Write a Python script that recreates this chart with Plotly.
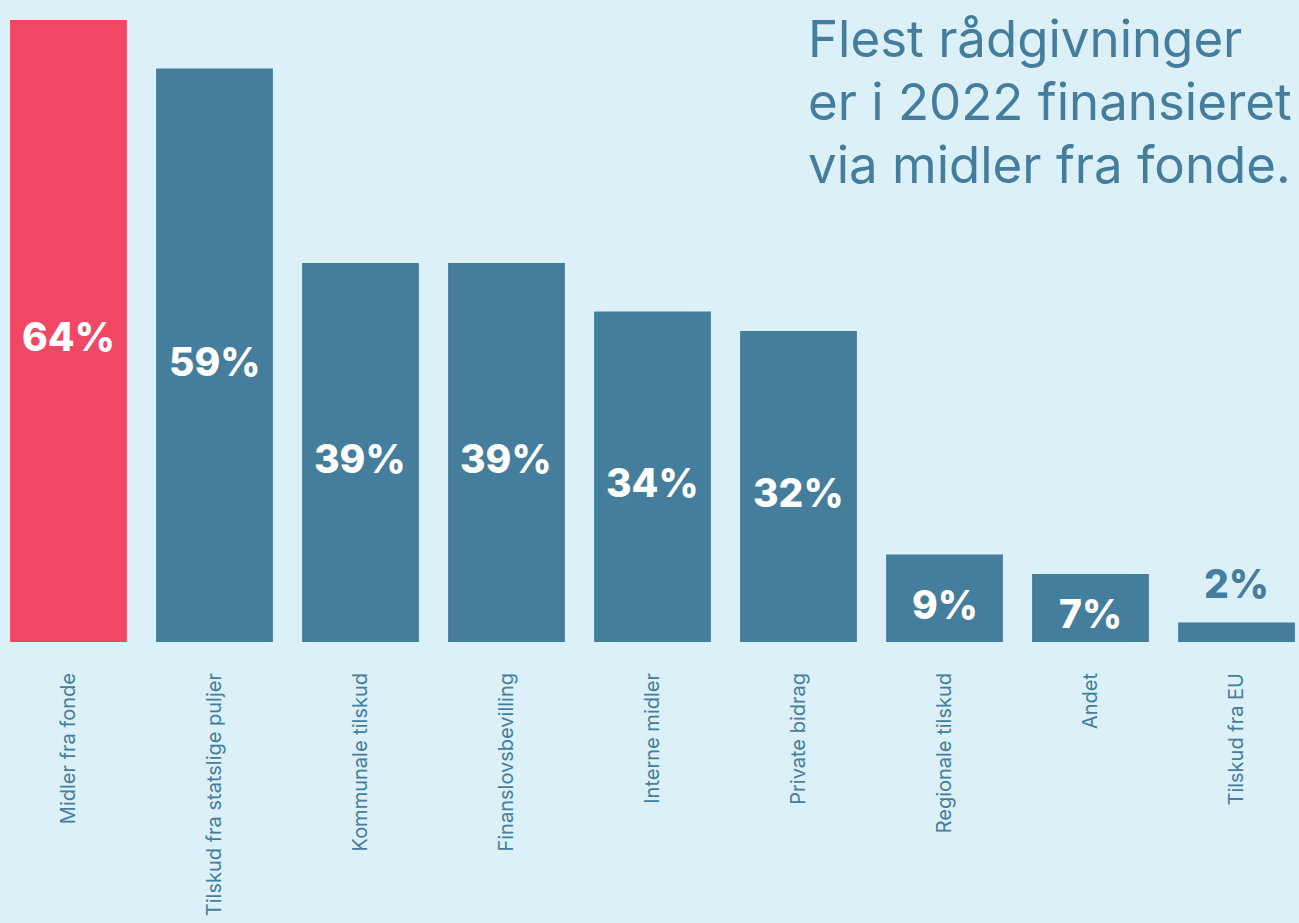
import plotly.graph_objects as go

categories = ["Midler fra fonde", "Tilskud fra statslige puljer", "Kommunale tilskud",
              "Finanslovsbevilling", "Interne midler", "Private bidrag",
              "Regionale tilskud", "Andet", "Tilskud fra EU"]
values = [64, 59, 39, 39, 34, 32, 9, 7, 2]
labels = ["64%", "59%", "39%", "39%", "34%", "32%", "9%", "7%", "2%"]
title_lines = ["Flest rådgivninger", "er i 2022 finansieret", "via midler fra fonde."]

RED = "#EF4764"
BLUE = "#457E9D"
BG = "#DBF0F7"

colors = [RED] + [BLUE] * (len(values) - 1)
positions = ["inside"] * (len(values) - 1) + ["outside"]
tcolors = ["white"] * (len(values) - 1) + [BLUE]

fig = go.Figure()
fig.add_trace(go.Bar(
    x=categories, y=values,
    marker=dict(color=colors, line=dict(width=0)),
    text=labels, textposition="none",
    hoverinfo="skip",
))

for c, v, t, p, tc in zip(categories, values, labels, positions, tcolors):
    if p == "inside":
        fig.add_annotation(x=c, y=v / 2, text=t, showarrow=False, yanchor="middle",
                           yshift=-6,
                           font=dict(family="Inter", size=39, color=tc, weight=800))
    else:
        fig.add_annotation(x=c, y=v, text=t, showarrow=False, yanchor="bottom",
                           yshift=14,
                           font=dict(family="Inter", size=39, color=tc, weight=800))

for i, line in enumerate(title_lines):
    fig.add_annotation(
        xref="paper", yref="paper", x=(806 / 1299), y=1, xanchor="left", yanchor="top",
        yshift=-6 - 63 * i,
        text=line, align="left", showarrow=False,
        font=dict(family="Inter", size=51, color=BLUE),
    )

fig.update_layout(
    width=1299, height=923,
    paper_bgcolor=BG, plot_bgcolor=BG,
    margin=dict(l=0, r=0, t=0, b=281),
    bargap=0.2,
    showlegend=False,
    xaxis=dict(range=[-0.469, 8.428], tickangle=-90, showgrid=False, showline=False,
               zeroline=False, ticks="", ticklabelstandoff=26,
               tickfont=dict(family="Inter", size=20, color=BLUE)),
    yaxis=dict(range=[0, 66.05], visible=False, showgrid=False, zeroline=False),
)

fig.write_html("out.html", config={"displayModeBar": False},
               post_script="document.body.style.margin='0';document.body.style.background='#DBF0F7';")
